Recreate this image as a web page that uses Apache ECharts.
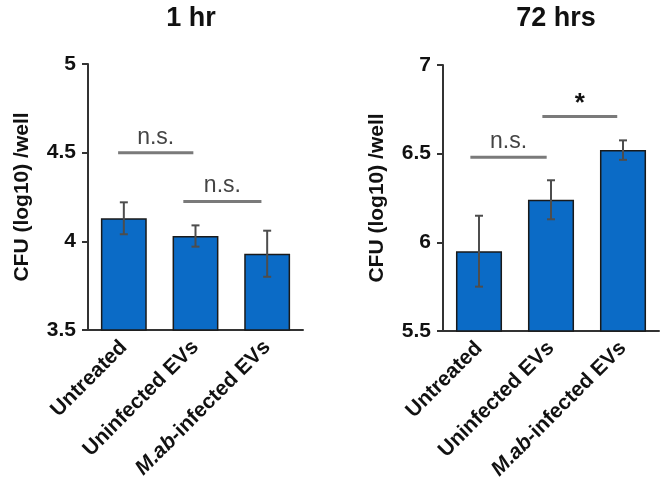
<!DOCTYPE html>
<html>
<head>
<meta charset="utf-8">
<script src="https://cdn.jsdelivr.net/npm/echarts@6/dist/echarts.min.js"></script>
<style>
  html, body { margin: 0; padding: 0; background: #fff; }
  #chart { width: 661px; height: 490px; }
</style>
</head>
<body>
<div id="chart"></div>
<script>
// Datos
const categorias = ['Untreated', 'Uninfected EVs', 'M.ab-infected EVs'];
const media1h = [4.13, 4.03, 3.93];
const error1h = [0.09, 0.06, 0.13];
const media72h = [5.95, 6.24, 6.52];
const error72h = [0.20, 0.11, 0.055];

// Barras de significancia: [categoría base, y, desde, hasta] (desplazamientos en anchos de categoría)
const sig1h = [[0, 4.5, -0.08, 0.97], [1, 4.225, -0.17, 0.92]];
const sigTexto1h = ['n.s.', 'n.s.'];
const sig72h = [[0, 6.48, -0.12, 0.94], [1, 6.71, -0.12, 0.92]];
const sigTexto72h = ['n.s.', '*'];

const ticks1h = [3.5, 5];
const ticks72h = [5.5, 7];

const fuente = 'Liberation Sans, Arial, sans-serif';
const azul = '#0b6bc6';

const grafico = echarts.init(document.getElementById('chart'));

function errorBar(params, api) {
  const x = api.value(0);
  const m = api.value(1);
  const e = api.value(2);
  const top = api.coord([x, m + e]);
  const bot = api.coord([x, m - e]);
  const cap = 4;
  const estilo = { stroke: '#4d4d4d', lineWidth: 2 };
  return {
    type: 'group',
    children: [
      { type: 'line', shape: { x1: top[0], y1: top[1], x2: bot[0], y2: bot[1] }, style: estilo },
      { type: 'line', shape: { x1: top[0] - cap, y1: top[1], x2: top[0] + cap, y2: top[1] }, style: estilo },
      { type: 'line', shape: { x1: bot[0] - cap, y1: bot[1], x2: bot[0] + cap, y2: bot[1] }, style: estilo }
    ]
  };
}

function sigBar(textos) {
  return function(params, api) {
    const c = api.coord([api.value(0), api.value(1)]);
    const w = api.size([1, 0])[0];
    const x1 = c[0] + api.value(2) * w;
    const x2 = c[0] + api.value(3) * w;
    const t = textos[params.dataIndex];
    const esEstrella = t === '*';
    return {
      type: 'group',
      children: [
        { type: 'line', shape: { x1: x1, y1: c[1], x2: x2, y2: c[1] }, style: { stroke: '#7a7a7a', lineWidth: 3 } },
        {
          type: 'text',
          x: (x1 + x2) / 2,
          y: c[1] - (esEstrella ? 0 : 4),
          style: {
            text: t,
            textAlign: 'center',
            textVerticalAlign: 'bottom',
            fontFamily: fuente,
            fontSize: esEstrella ? 26 : 23,
            fontWeight: esEstrella ? 'bold' : 'normal',
            fill: esEstrella ? '#111' : '#444'
          }
        }
      ]
    };
  };
}

function ejeX(gridIndex) {
  return {
    type: 'category',
    gridIndex: gridIndex,
    data: categorias,
    axisLine: { lineStyle: { color: '#333', width: 2 } },
    axisTick: { show: false },
    axisLabel: {
      rotate: 45,
      margin: 14,
      interval: 0,
      color: '#111',
      fontFamily: fuente,
      fontWeight: 'bold',
      fontSize: 21,
      formatter: function(v) {
        if (v.indexOf('M.ab') === 0) return '{i|M.ab}' + v.slice(4);
        return v;
      },
      rich: {
        i: { fontStyle: 'italic', fontWeight: 'bold', fontFamily: fuente, fontSize: 21, color: '#111' }
      }
    }
  };
}

function ejeY(gridIndex, rango) {
  return {
    type: 'value',
    gridIndex: gridIndex,
    min: rango[0],
    max: rango[1],
    interval: 0.5,
    name: 'CFU (log10) /well',
    nameLocation: 'middle',
    nameGap: 55,
    nameTextStyle: { color: '#111', fontFamily: fuente, fontWeight: 'bold', fontSize: 21 },
    axisLine: { show: true, lineStyle: { color: '#333', width: 2 } },
    axisTick: { show: true, length: 6, lineStyle: { color: '#333', width: 2 } },
    splitLine: { show: false },
    axisLabel: { margin: 12, color: '#111', fontFamily: fuente, fontWeight: 'bold', fontSize: 21 }
  };
}

function barras(indice, datos) {
  return {
    type: 'bar',
    xAxisIndex: indice,
    yAxisIndex: indice,
    data: datos,
    barWidth: '64%',
    itemStyle: { color: azul, borderColor: '#1a1a1a', borderWidth: 1.5 },
    silent: true
  };
}

grafico.setOption({
  animation: false,
  title: [
    { text: '1 hr', left: 186, top: 0, textAlign: 'center',
      textStyle: { fontFamily: fuente, fontWeight: 'bold', fontSize: 27, color: '#111' } },
    { text: '72 hrs', left: 551, top: 0, textAlign: 'center',
      textStyle: { fontFamily: fuente, fontWeight: 'bold', fontSize: 27, color: '#111' } }
  ],
  grid: [
    { left: 88, width: 215, top: 64, bottom: 160 },
    { left: 443, width: 216, top: 65, bottom: 159 }
  ],
  xAxis: [ejeX(0), ejeX(1)],
  yAxis: [ejeY(0, ticks1h), ejeY(1, ticks72h)],
  series: [
    barras(0, media1h),
    barras(1, media72h),
    {
      type: 'custom',
      xAxisIndex: 0, yAxisIndex: 0,
      renderItem: errorBar,
      encode: { x: 0, y: 1 },
      data: media1h.map((m, i) => [i, m, error1h[i]]),
      z: 5
    },
    {
      type: 'custom',
      xAxisIndex: 1, yAxisIndex: 1,
      renderItem: errorBar,
      encode: { x: 0, y: 1 },
      data: media72h.map((m, i) => [i, m, error72h[i]]),
      z: 5
    },
    {
      type: 'custom',
      xAxisIndex: 0, yAxisIndex: 0,
      renderItem: sigBar(sigTexto1h),
      encode: { x: 0, y: 1 },
      data: sig1h,
      z: 5
    },
    {
      type: 'custom',
      xAxisIndex: 1, yAxisIndex: 1,
      renderItem: sigBar(sigTexto72h),
      encode: { x: 0, y: 1 },
      data: sig72h,
      z: 5
    }
  ]
});
</script>
</body>
</html>
